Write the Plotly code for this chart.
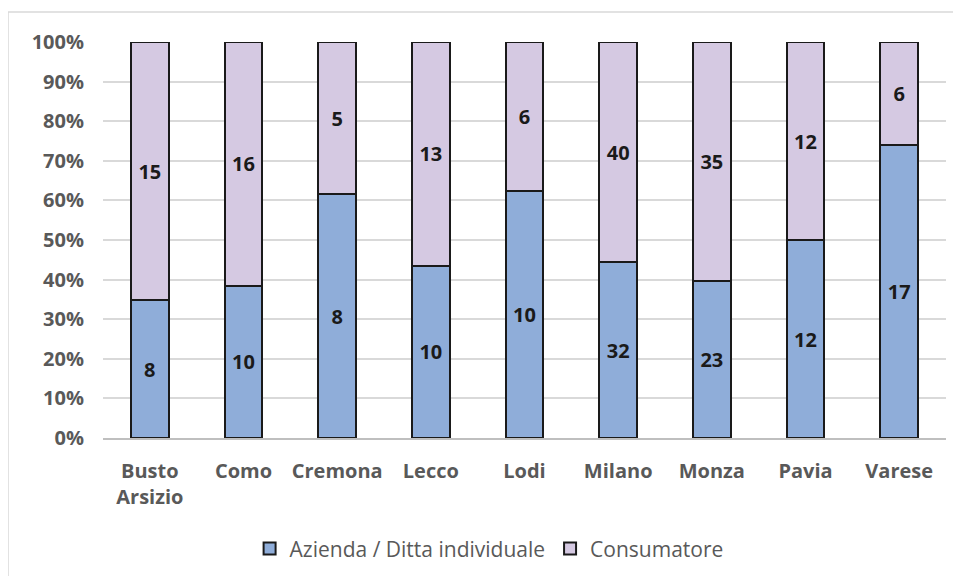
import plotly.graph_objects as go

categories = ["Busto<br>Arsizio", "Como", "Cremona", "Lecco", "Lodi", "Milano", "Monza", "Pavia", "Varese"]
azienda = [8, 10, 8, 10, 10, 32, 23, 12, 17]
consumatore = [15, 16, 5, 13, 6, 40, 35, 12, 6]
series_names = ["Azienda / Ditta individuale", "Consumatore"]
y_ticks = [0, 10, 20, 30, 40, 50, 60, 70, 80, 90, 100]
y_tick_labels = [f"{v}%" for v in y_ticks]

FONT = "Open Sans, sans-serif"
W, H = 945, 568
ml, mr, mt, mb = 95, 7, 34, 138

fig = go.Figure()
fig.add_trace(go.Bar(
    x=categories, y=azienda, name=series_names[0],
    marker=dict(color="#8fadd9", line=dict(color="#1a1a1a", width=2)),
    text=azienda, textposition="inside", insidetextanchor="middle",
    textfont=dict(family=FONT, size=20, color="#1a1a1a", weight="bold"),
    textangle=0,
))
fig.add_trace(go.Bar(
    x=categories, y=consumatore, name=series_names[1],
    marker=dict(color="#d5c9e2", line=dict(color="#1a1a1a", width=2)),
    text=consumatore, textposition="inside", insidetextanchor="middle",
    textfont=dict(family=FONT, size=20, color="#1a1a1a", weight="bold"),
    textangle=0,
))

# outer chart border (decoration)
pw, ph = W - ml - mr, H - mt - mb
fig.add_shape(type="rect", xref="paper", yref="paper",
              x0=(0 - ml) / pw, x1=(W + 20 - ml) / pw,
              y0=(H - mb - (H + 20)) / ph, y1=(H - mb - 4) / ph,
              line=dict(color="#d9d9d9", width=1.5), fillcolor="rgba(0,0,0,0)", layer="below")

fig.update_layout(
    width=W, height=H,
    margin=dict(l=ml, r=mr, t=mt, b=mb, autoexpand=False),
    barmode="stack", barnorm="percent", bargap=0.6,
    plot_bgcolor="white", paper_bgcolor="white",
    font=dict(family=FONT, color="#595959"),
    showlegend=True,
    legend=dict(orientation="h", x=0.458, xanchor="center", y=-0.28, yanchor="middle",
                font=dict(size=21, color="#595959", family=FONT),
                traceorder="normal", itemwidth=30),
    uniformtext=dict(minsize=10, mode="show"),
)
fig.update_yaxes(range=[0, 100], tickvals=y_ticks, ticktext=y_tick_labels,
                 showgrid=True, gridcolor="#d9d9d9", gridwidth=1.5,
                 zeroline=False, showline=False, ticks="",
                 ticklabelstandoff=18,
                 tickfont=dict(size=20, color="#595959", family=FONT, weight="bold"))
fig.update_xaxes(showline=True, linecolor="#bfbfbf", linewidth=1.5, ticks="",
                 ticklabelstandoff=14,
                 tickfont=dict(size=20, color="#595959", family=FONT, weight="bold"))

fig.write_html("out.html")
